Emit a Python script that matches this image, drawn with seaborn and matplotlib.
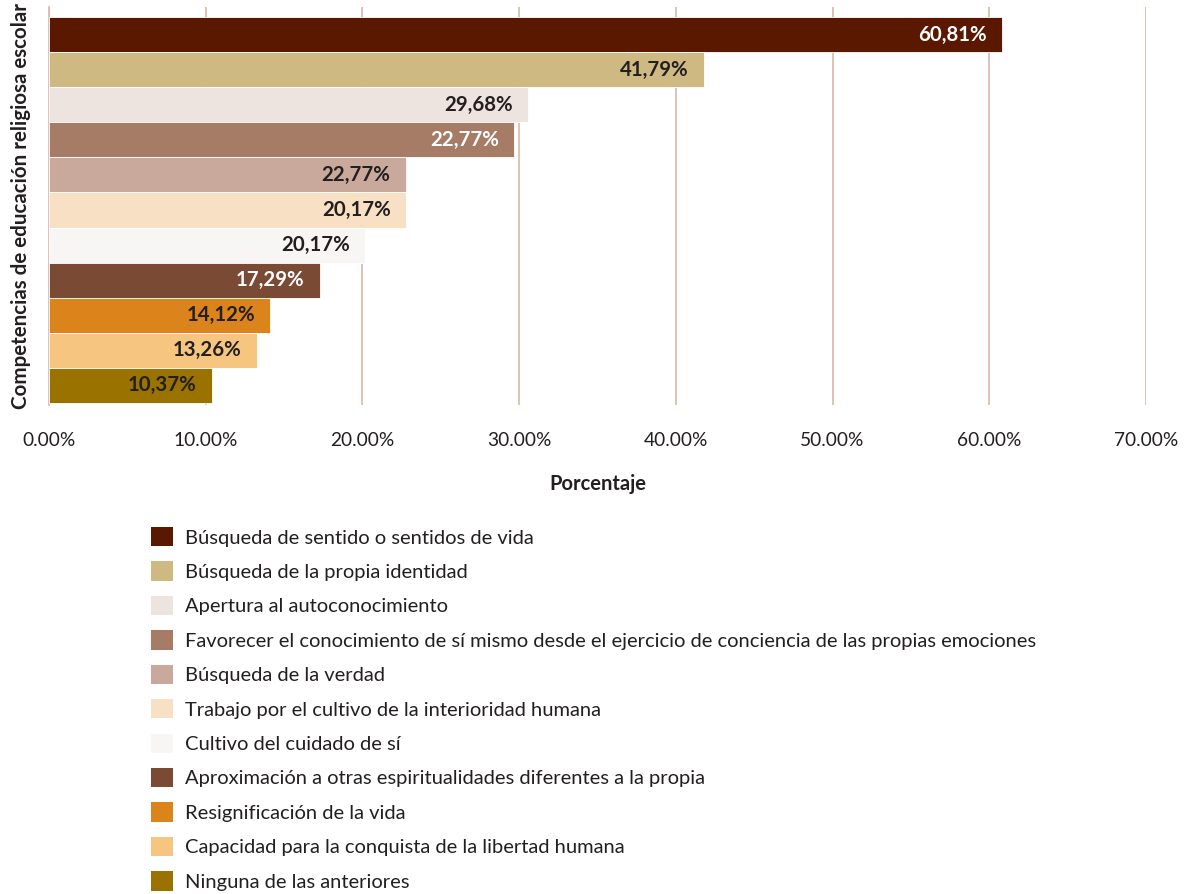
import matplotlib
matplotlib.use("Agg")
import matplotlib.pyplot as plt
from matplotlib.patches import Patch
import seaborn as sns

categorias = [
    "Búsqueda de sentido o sentidos de vida",
    "Búsqueda de la propia identidad",
    "Apertura al autoconocimiento",
    "Favorecer el conocimiento de sí mismo desde el ejercicio de conciencia de las propias emociones",
    "Búsqueda de la verdad",
    "Trabajo por el cultivo de la interioridad humana",
    "Cultivo del cuidado de sí",
    "Aproximación a otras espiritualidades diferentes a la propia",
    "Resignificación de la vida",
    "Capacidad para la conquista de la libertad humana",
    "Ninguna de las anteriores",
]
# bar lengths as drawn in the source chart
valores = [60.81, 41.79, 30.55, 29.68, 22.77, 22.77, 20.17, 17.29, 14.12, 13.26, 10.37]
# labels as printed in the source chart
etiquetas = ["60,81%", "41,79%", "29,68%", "22,77%", "22,77%", "20,17%",
             "20,17%", "17,29%", "14,12%", "13,26%", "10,37%"]
colores = ["#5a1800", "#cdb981", "#ede3df", "#a67c67", "#c9a99b", "#f7e0c4",
           "#f8f6f4", "#7a4a34", "#dc841c", "#f6c57f", "#9a7200"]
color_texto = ["white", "#231f20", "#231f20", "white", "#231f20", "#231f20",
               "#231f20", "white", "#231f20", "#231f20", "#231f20"]
ticks_x = [0, 10, 20, 30, 40, 50, 60, 70]

sns.set_style("white")
plt.rcParams["font.family"] = ["Lato", "DejaVu Sans"]
grid_color = "#d8b8a8"
dark = "#231f20"

fig = plt.figure(figsize=(11.84, 8.94), dpi=100)
ax = fig.add_axes([49 / 1184, 1 - 405 / 894, (1146 - 49) / 1184, 398 / 894])

sns.barplot(x=valores, y=categorias, hue=categorias, palette=colores,
            orient="h", width=1.0, saturation=1, legend=False, ax=ax,
            edgecolor="white", linewidth=0.6, zorder=3)

ax.set_xlim(0, 70)
ax.set_ylim(10.56, -0.79)
ax.set_xticks(ticks_x)
ax.set_xticklabels([f"{t:.2f}%" for t in ticks_x], fontsize=13.8, color=dark)
ax.set_yticks([])
ax.tick_params(axis="x", length=9.5, width=1.2, color=grid_color, pad=10)
ax.grid(axis="x", color=grid_color, linewidth=1.2, zorder=0)
ax.grid(axis="y", visible=False)
for s in ["top", "right", "bottom"]:
    ax.spines[s].set_visible(False)
ax.spines["left"].set_color(grid_color)
ax.spines["left"].set_linewidth(1.2)

ax.set_xlabel("Porcentaje", fontsize=14.5, fontweight="bold", color=dark, labelpad=18)
ax.set_ylabel("Competencias de educación religiosa escolar", fontsize=14.8,
              fontweight="bold", color=dark)
ax.yaxis.set_label_coords(-0.0165, 0.5)

for bars in ax.containers:
    for bar in bars:
        i = int(round(bar.get_y() + bar.get_height() / 2))
        ax.annotate(etiquetas[i], xy=(bar.get_width(), i), xytext=(-11, 0),
                    textcoords="offset points", ha="right", va="center",
                    fontsize=14.7, fontweight="bold", color=color_texto[i], zorder=4)

handles = [Patch(facecolor=c, edgecolor="none") for c in colores]
fig.legend(handles, categorias, loc="upper left",
           bbox_to_anchor=(143 / 1184, 1 - 519 / 894), frameon=False,
           fontsize=14.5, handlelength=1.1, handleheight=1.1, handletextpad=0.6,
           labelspacing=0.74, borderaxespad=0, labelcolor=dark)

fig.savefig("out.png", dpi=100)
